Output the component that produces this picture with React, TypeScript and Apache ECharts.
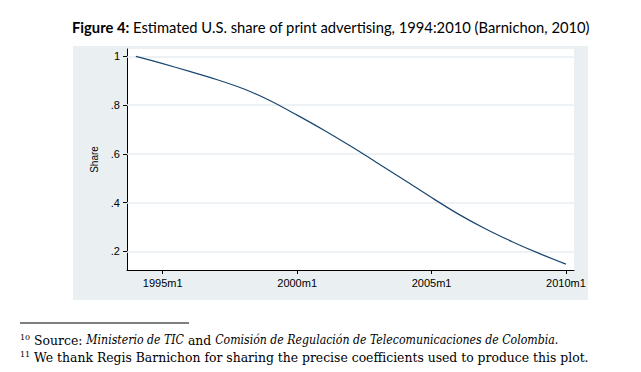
import React, { useEffect, useRef } from "react";
import * as echarts from "echarts";

const years = [1994, 1995, 1996, 1997, 1998, 1999, 2000, 2001, 2002, 2003, 2004, 2005, 2006, 2007, 2008, 2009, 2010];
const shareValues = [1.0, 0.970, 0.938, 0.905, 0.867, 0.818, 0.759, 0.697, 0.631, 0.562, 0.492, 0.421, 0.353, 0.293, 0.240, 0.192, 0.148];
const xTicks = [1995, 2000, 2005, 2010];
const yTicks = [0.2, 0.4, 0.6, 0.8, 1];
const titleBold = "Figure 4:";
const titleText = " Estimated U.S. share of print advertising, 1994:2010 (Barnichon, 2010)";
const yAxisName = "Share";

export default function App() {
  const ref = useRef<HTMLDivElement>(null);
  useEffect(() => {
    if (!ref.current) return;
    const chart = echarts.init(ref.current, null, { renderer: "svg" });
    const data = years.map((y, i) => [y, shareValues[i]]);
    chart.setOption({
      animation: false,
      backgroundColor: "#ffffff",
      graphic: [
        {
          type: "rect",
          z: -10,
          shape: { x: 73, y: 46, width: 515, height: 254 },
          style: { fill: "#eaf0f2" },
        },
        {
          type: "rect",
          z: -9,
          shape: { x: 127, y: 49, width: 447, height: 221 },
          style: { fill: "#ffffff" },
        },
        {
          type: "text",
          x: 72,
          y: 27,
          style: {
            text: `{b|${titleBold}}{n|${titleText}}`,
            verticalAlign: "middle",
            rich: {
              b: { fontFamily: "Lato", fontWeight: "bold", fontSize: 14.75, fill: "#000" },
              n: { fontFamily: "Lato", fontSize: 14.75, fill: "#000" },
            },
          },
        },
        {
          type: "line",
          shape: { x1: 20, y1: 323, x2: 189, y2: 323 },
          style: { stroke: "#000", lineWidth: 1 },
        },
        {
          type: "text",
          x: 20,
          y: 340,
          style: {
            text: "{s|10}{n| Source: }{i|Ministerio de TIC}{n| and }{i|Comisión de Regulación de Telecomunicaciones de Colombia.}",
            verticalAlign: "middle",
            rich: {
              s: { fontFamily: "DejaVu Serif", fontSize: 8, fill: "#000", padding: [0, 0, 5, 0] },
              n: { fontFamily: "DejaVu Serif", fontSize: 12.4, fill: "#000" },
              i: { fontFamily: "'DejaVu Serif Condensed', 'DejaVu Serif'", fontStyle: "italic", fontSize: 12.2, fill: "#000" },
            },
          },
        },
        {
          type: "text",
          x: 20,
          y: 357,
          style: {
            text: "{s|11}{n| We thank Regis Barnichon for sharing the precise coefficients used to produce this plot.}",
            verticalAlign: "middle",
            rich: {
              s: { fontFamily: "DejaVu Serif", fontSize: 8, fill: "#000", padding: [0, 0, 5, 0] },
              n: { fontFamily: "DejaVu Serif", fontSize: 12.4, fill: "#000" },
            },
          },
        },
      ],
      grid: { left: 127, top: 49, width: 447, height: 221, containLabel: false },
      xAxis: {
        type: "value",
        min: 1993.67,
        max: 2010.3,
        axisLine: { show: true, onZero: false, lineStyle: { color: "#000", width: 1 } },
        axisTick: { show: true, length: 4, customValues: xTicks, lineStyle: { color: "#000" } },
        axisLabel: {
          customValues: xTicks,
          formatter: (v: number) => `${v}m1`,
          fontFamily: "Liberation Sans",
          fontSize: 11,
          color: "#000",
          margin: 7,
        },
        splitLine: { show: false },
      },
      yAxis: {
        type: "value",
        min: 0.124,
        max: 1.03,
        name: yAxisName,
        nameLocation: "middle",
        nameRotate: 90,
        nameGap: 28,
        nameTextStyle: { fontFamily: "Liberation Sans", fontSize: 10, color: "#000" },
        axisLine: { show: true, onZero: false, lineStyle: { color: "#000", width: 1 } },
        axisTick: { show: true, length: 4, customValues: yTicks, lineStyle: { color: "#000" } },
        axisLabel: {
          customValues: yTicks,
          formatter: (v: number) => (v === 1 ? "1" : String(Number(v.toFixed(1))).replace(/^0/, "")),
          fontFamily: "Liberation Sans",
          fontSize: 11,
          color: "#000",
          margin: 7,
        },
        splitLine: { show: false },
      },
      series: [
        {
          type: "line",
          data,
          smooth: 0.3,
          showSymbol: false,
          lineStyle: { color: "#1a476f", width: 1.2 },
          markLine: {
            silent: true,
            symbol: "none",
            label: { show: false },
            lineStyle: { color: "#e8eef0", width: 1.5, type: "solid" },
            data: yTicks.map((v) => ({ yAxis: v })),
            z: 1,
          },
          z: 3,
        },
      ],
    });
    return () => chart.dispose();
  }, []);
  return <div ref={ref} style={{ position: "fixed", left: 0, top: 0, width: 641, height: 372 }} />;
}
